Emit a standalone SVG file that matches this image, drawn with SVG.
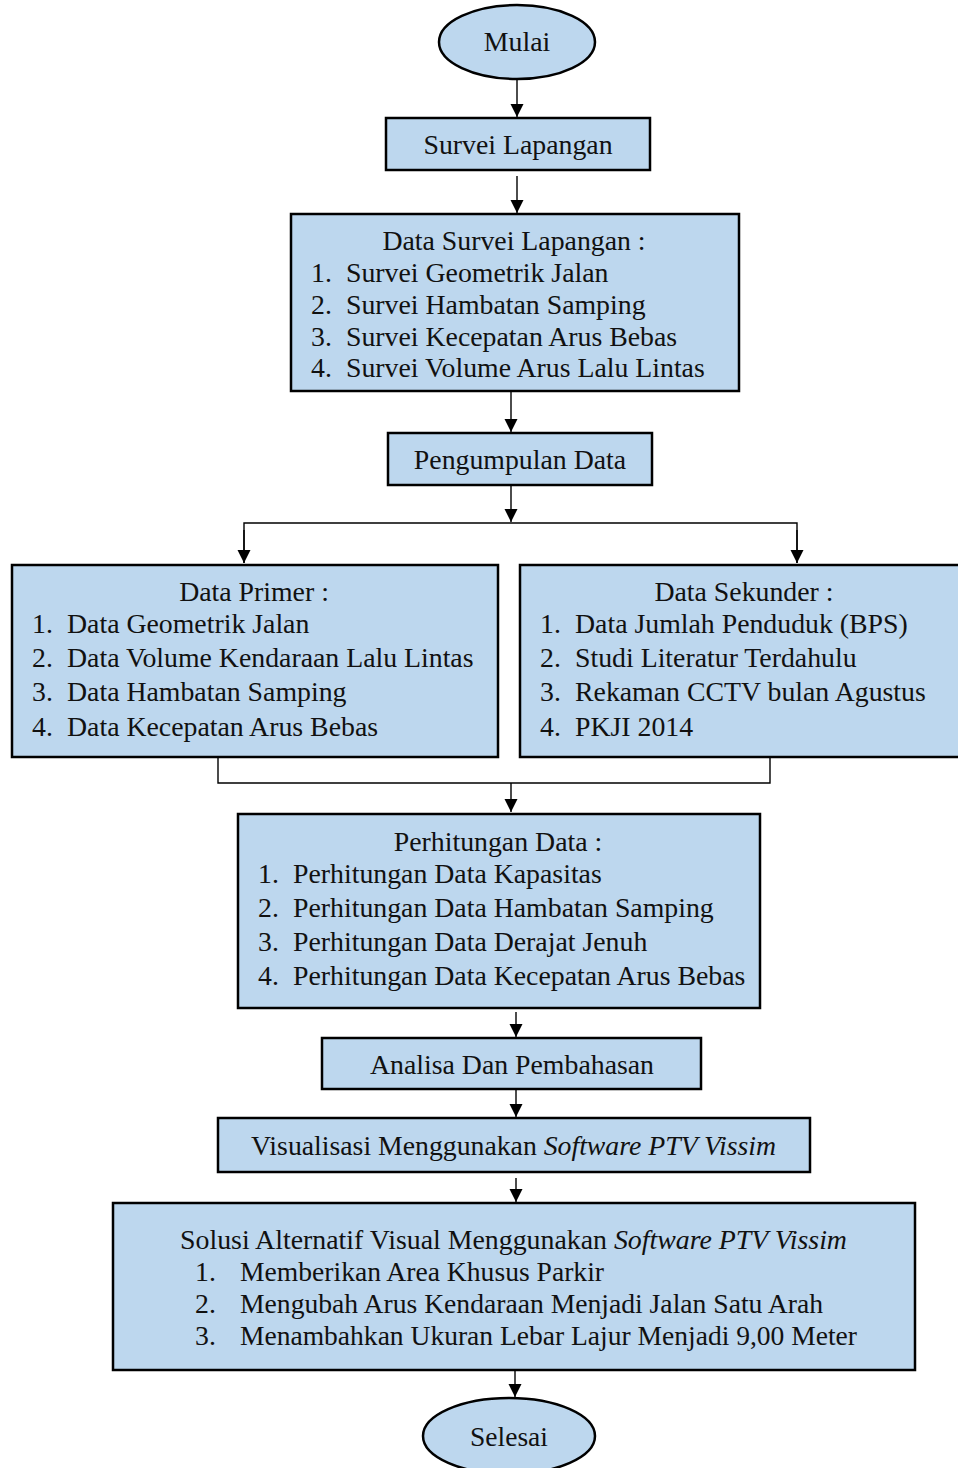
<svg xmlns="http://www.w3.org/2000/svg" width="958" height="1468" viewBox="0 0 958 1468">
<style>
.box{fill:#BDD7EE;stroke:#000;stroke-width:2.5}
.t{font-family:"Liberation Serif","Times New Roman",serif;font-size:27.8px;fill:#111}
.c{text-anchor:middle}
.con{fill:none;stroke:#000;stroke-width:1.4}
.i{font-style:italic}
</style>
<defs>
<marker id="ah" markerUnits="userSpaceOnUse" markerWidth="14" markerHeight="14" refX="13" refY="6.5" orient="auto">
<path d="M0,0 L13,6.5 L0,13 z" fill="#000"/>
</marker>
</defs>
<rect width="958" height="1468" fill="#fff"/>
<g id="connectors">
<line class="con" x1="517" y1="80" x2="517" y2="117" marker-end="url(#ah)"/>
<line class="con" x1="517" y1="176" x2="517" y2="213" marker-end="url(#ah)"/>
<line class="con" x1="511" y1="392" x2="511" y2="432" marker-end="url(#ah)"/>
<line class="con" x1="511" y1="486" x2="511" y2="522" marker-end="url(#ah)"/>
<polyline class="con" points="244,563 244,523 797,523 797,563"/>
<line class="con" x1="244" y1="530" x2="244" y2="563" marker-end="url(#ah)"/>
<line class="con" x1="797" y1="530" x2="797" y2="563" marker-end="url(#ah)"/>
<polyline class="con" points="218,758 218,783 770,783 770,758"/>
<line class="con" x1="511" y1="783" x2="511" y2="812" marker-end="url(#ah)"/>
<line class="con" x1="516" y1="1012" x2="516" y2="1037" marker-end="url(#ah)"/>
<line class="con" x1="516" y1="1090" x2="516" y2="1117" marker-end="url(#ah)"/>
<line class="con" x1="516" y1="1178" x2="516" y2="1202" marker-end="url(#ah)"/>
<line class="con" x1="515" y1="1371" x2="515" y2="1397" marker-end="url(#ah)"/>
</g>
<g id="mulai">
<ellipse class="box" cx="517" cy="42" rx="78" ry="37"/>
<text class="t c" x="517" y="51">Mulai</text>
</g>
<g id="survei-lapangan">
<rect class="box" x="386" y="118" width="264" height="52"/>
<text class="t c" x="518" y="154">Survei Lapangan</text>
</g>
<g id="data-survei">
<rect class="box" x="291" y="214" width="448" height="177"/>
<text class="t c" x="514" y="250">Data Survei Lapangan :</text>
<text class="t" x="311" y="282">1.</text><text class="t" x="346" y="282">Survei Geometrik Jalan</text>
<text class="t" x="311" y="314">2.</text><text class="t" x="346" y="314">Survei Hambatan Samping</text>
<text class="t" x="311" y="346">3.</text><text class="t" x="346" y="346">Survei Kecepatan Arus Bebas</text>
<text class="t" x="311" y="377">4.</text><text class="t" x="346" y="377">Survei Volume Arus Lalu Lintas</text>
</g>
<g id="pengumpulan">
<rect class="box" x="388" y="433" width="264" height="52"/>
<text class="t c" x="520" y="469">Pengumpulan Data</text>
</g>
<g id="data-primer">
<rect class="box" x="12" y="565" width="486" height="192"/>
<text class="t c" x="254" y="601">Data Primer :</text>
<text class="t" x="32" y="633">1.</text><text class="t" x="67" y="633">Data Geometrik Jalan</text>
<text class="t" x="32" y="667">2.</text><text class="t" x="67" y="667">Data Volume Kendaraan Lalu Lintas</text>
<text class="t" x="32" y="701">3.</text><text class="t" x="67" y="701">Data Hambatan Samping</text>
<text class="t" x="32" y="736">4.</text><text class="t" x="67" y="736">Data Kecepatan Arus Bebas</text>
</g>
<g id="data-sekunder">
<rect class="box" x="520" y="565" width="445" height="192"/>
<text class="t c" x="744" y="601">Data Sekunder :</text>
<text class="t" x="540" y="633">1.</text><text class="t" x="575" y="633">Data Jumlah Penduduk (BPS)</text>
<text class="t" x="540" y="667">2.</text><text class="t" x="575" y="667">Studi Literatur Terdahulu</text>
<text class="t" x="540" y="701">3.</text><text class="t" x="575" y="701">Rekaman CCTV bulan Agustus</text>
<text class="t" x="540" y="736">4.</text><text class="t" x="575" y="736">PKJI 2014</text>
</g>
<g id="perhitungan">
<rect class="box" x="238" y="814" width="522" height="194"/>
<text class="t c" x="498" y="851">Perhitungan Data :</text>
<text class="t" x="258" y="883">1.</text><text class="t" x="293" y="883">Perhitungan Data Kapasitas</text>
<text class="t" x="258" y="917">2.</text><text class="t" x="293" y="917">Perhitungan Data Hambatan Samping</text>
<text class="t" x="258" y="951">3.</text><text class="t" x="293" y="951">Perhitungan Data Derajat Jenuh</text>
<text class="t" x="258" y="985">4.</text><text class="t" x="293" y="985">Perhitungan Data Kecepatan Arus Bebas</text>
</g>
<g id="analisa">
<rect class="box" x="322" y="1038" width="379" height="51"/>
<text class="t c" x="512" y="1074">Analisa Dan Pembahasan</text>
</g>
<g id="visualisasi">
<rect class="box" x="218" y="1118" width="592" height="54"/>
<text class="t" x="251" y="1155" textLength="525" lengthAdjust="spacingAndGlyphs">Visualisasi Menggunakan <tspan class="i">Software PTV Vissim</tspan></text>
</g>
<g id="solusi">
<rect class="box" x="113" y="1203" width="802" height="167"/>
<text class="t" x="180" y="1249" textLength="667" lengthAdjust="spacingAndGlyphs">Solusi Alternatif Visual Menggunakan <tspan class="i">Software PTV Vissim</tspan></text>
<text class="t" x="195" y="1281">1.</text><text class="t" x="240" y="1281" textLength="364" lengthAdjust="spacingAndGlyphs">Memberikan Area Khusus Parkir</text>
<text class="t" x="195" y="1313">2.</text><text class="t" x="240" y="1313" textLength="583" lengthAdjust="spacingAndGlyphs">Mengubah Arus Kendaraan Menjadi Jalan Satu Arah</text>
<text class="t" x="195" y="1345">3.</text><text class="t" x="240" y="1345" textLength="617" lengthAdjust="spacingAndGlyphs">Menambahkan Ukuran Lebar Lajur Menjadi 9,00 Meter</text>
</g>
<g id="selesai">
<ellipse class="box" cx="509" cy="1436" rx="86" ry="38"/>
<text class="t c" x="509" y="1446" textLength="78" lengthAdjust="spacingAndGlyphs">Selesai</text>
</g>
</svg>
